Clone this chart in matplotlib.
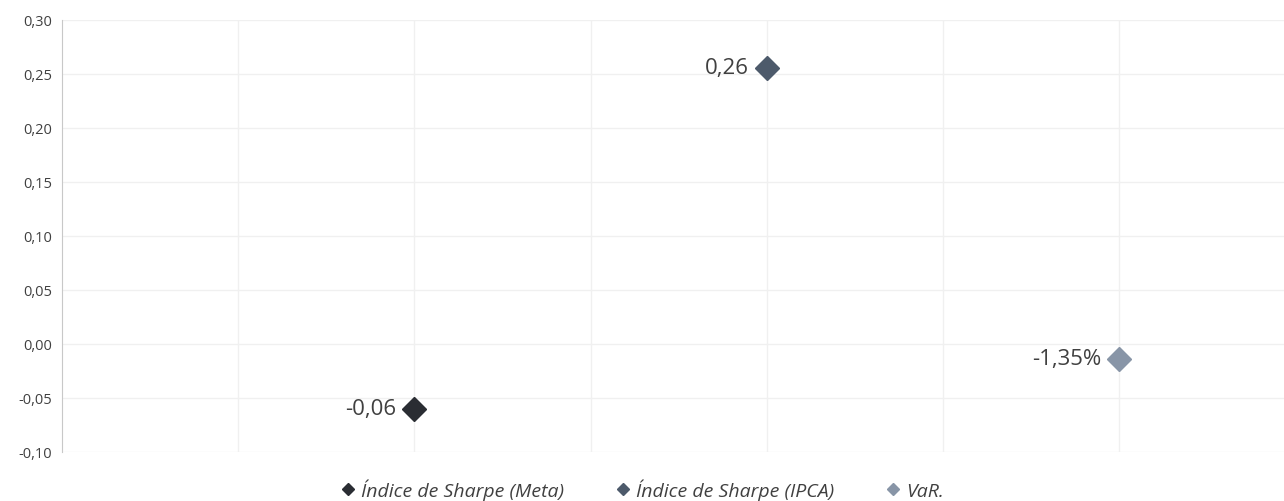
import matplotlib.pyplot as plt
from matplotlib.ticker import FuncFormatter

plt.rcParams['font.family'] = ['Open Sans', 'DejaVu Sans']

series = ['Índice de Sharpe (Meta)', 'Índice de Sharpe (IPCA)', 'VaR.']
x_vals = [2, 4, 6]
y_vals = [-0.06, 0.256, -0.0135]
labels = ['-0,06', '0,26', '-1,35%']
colors = ['#2a2d33', '#4d5a6b', '#8895a7']

fig = plt.figure(figsize=(12.84, 5.02), dpi=100)
ax = fig.add_axes([62/1284, 1-453/502, 1-62/1284, 432/502])

for xv, yv, lab, c, name in zip(x_vals, y_vals, labels, colors, series):
    ax.plot(xv, yv, marker='D', markersize=12, color=c, linestyle='none', label=name)
    ax.annotate(lab, (xv, yv), xytext=(-13, 0), textcoords='offset points',
                ha='right', va='center', fontsize=16, color='#404040')

ax.set_xlim(0, 6.935)
ax.set_ylim(-0.10, 0.30)
ax.set_yticks([i * 0.05 - 0.10 for i in range(9)])
ax.yaxis.set_major_formatter(FuncFormatter(lambda v, p: f'{v:.2f}'.replace('.', ',').replace('-0,00', '0,00')))
ax.set_xticks([1, 2, 3, 4, 5, 6])
ax.tick_params(axis='x', length=0, labelbottom=False)
ax.tick_params(axis='y', length=0, labelsize=10.5, labelcolor='#404040', pad=7)
ax.grid(True, color='#f0f0f0', linewidth=1)
ax.set_axisbelow(True)
for s in ['top', 'right', 'bottom']:
    ax.spines[s].set_visible(False)
ax.spines['left'].set_color('#c8c8c8')

leg = fig.legend(loc='center', bbox_to_anchor=(0.5, 1-490/502), ncol=3, frameon=False,
                 prop={'style': 'italic', 'size': 14}, markerscale=0.5,
                 handlelength=0.8, handletextpad=0.3, columnspacing=2.6)
for t in leg.get_texts():
    t.set_color('#404040')

fig.savefig('out.png', dpi=100)
